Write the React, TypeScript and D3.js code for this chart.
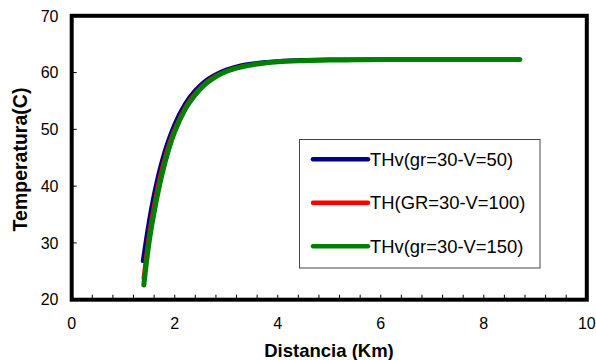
import React from "react";
import * as d3 from "d3";

const xTicks = [0, 2, 4, 6, 8, 10];
const yTicks = [20, 30, 40, 50, 60, 70];

const blueX = [1.38, 1.45, 1.5, 1.6, 1.7, 1.8, 1.9, 2.0, 2.2, 2.4, 2.6, 2.8, 3.0, 3.3, 3.6, 4.0, 4.5, 5.0, 5.5, 6.0, 6.5, 7.0, 7.7];
const blueY = [26.8, 31.1, 33.9, 38.7, 42.7, 46.0, 48.7, 51.0, 54.5, 56.9, 58.6, 59.7, 60.5, 61.3, 61.7, 62.0, 62.2, 62.3, 62.3, 62.3, 62.35, 62.4, 62.4];

const redX = [1.38, 1.45, 1.5, 1.6, 1.7, 1.8, 1.9, 2.0, 2.2, 2.4, 2.6, 2.8, 3.0, 3.3, 3.6, 4.0, 4.5, 5.0, 5.5, 6.0, 6.5, 7.0, 7.7];
const redY = [23.7, 29.0, 32.2, 37.4, 41.7, 45.2, 48.1, 50.4, 54.1, 56.6, 58.4, 59.6, 60.4, 61.2, 61.6, 62.0, 62.2, 62.3, 62.3, 62.3, 62.35, 62.4, 62.4];

const greenX = [1.4, 1.45, 1.5, 1.6, 1.7, 1.8, 1.9, 2.0, 2.2, 2.4, 2.6, 2.8, 3.0, 3.3, 3.6, 4.0, 4.5, 5.0, 5.5, 6.0, 6.5, 7.0, 7.5, 8.0, 8.7];
const greenY = [22.6, 26.5, 30.0, 35.4, 40.0, 43.8, 47.0, 49.6, 53.5, 56.1, 58.0, 59.3, 60.2, 61.0, 61.5, 61.9, 62.1, 62.2, 62.25, 62.3, 62.3, 62.3, 62.3, 62.3, 62.3];

const seriesNames = ["THv(gr=30-V=50)", "TH(GR=30-V=100)", "THv(gr=30-V=150)"];
const seriesColors = ["#000080", "#ff0000", "#008000"];
const seriesWidths = [4, 2.5, 5];

export default function App() {
  const W = 596, H = 360;
  const left = 71.7, right = 586.8, top = 15.8, bottom = 299.7;
  const x = d3.scaleLinear().domain([0, 10]).range([left, right]);
  const y = d3.scaleLinear().domain([20, 70]).range([bottom, top]);
  const line = d3.line<[number, number]>().x(d => x(d[0])).y(d => y(d[1])).curve(d3.curveMonotoneX);
  const series = [
    blueX.map((v, i) => [v, blueY[i]] as [number, number]),
    redX.map((v, i) => [v, redY[i]] as [number, number]),
    greenX.map((v, i) => [v, greenY[i]] as [number, number]),
  ];
  const minorX = d3.range(0, 10.001, 0.4);
  const font = "Arial, 'Liberation Sans', sans-serif";
  const lx = 299.5, ly = 139.5, lw = 240.5, lh = 128.5;
  return (
    <svg width={W} height={H} style={{ position: "absolute", left: 0, top: 0 }} fontFamily={font}>
      <rect x={0} y={0} width={W} height={H} fill="#fff" />
      <defs>
        <clipPath id="pc">
          <rect x={left} y={top} width={right - left} height={bottom - top} />
        </clipPath>
      </defs>
      {minorX.map((t, i) => (
        <line key={"mx" + i} x1={x(t)} x2={x(t)} y1={bottom} y2={bottom - 5} stroke="#000" strokeWidth={1} />
      ))}
      {yTicks.map(t => (
        <line key={"yt" + t} x1={left} x2={left + 5} y1={y(t)} y2={y(t)} stroke="#000" strokeWidth={1} />
      ))}
      <g clipPath="url(#pc)">
        {series.map((s, i) => (
          <path key={i} d={line(s) || ""} fill="none" stroke={seriesColors[i]} strokeWidth={seriesWidths[i]} strokeLinecap="round" strokeLinejoin="round" />
        ))}
      </g>
      <rect x={left} y={top} width={right - left} height={bottom - top} fill="none" stroke="#000" strokeWidth={4} />
      {xTicks.map(t => (
        <text key={"xl" + t} x={x(t)} y={329} textAnchor="middle" fontSize={16} fill="#000">{t}</text>
      ))}
      {yTicks.map(t => (
        <text key={"yl" + t} x={58.5} y={y(t) + 5.7} textAnchor="end" fontSize={16} fill="#000">{t}</text>
      ))}
      <text x={329} y={356.5} textAnchor="middle" fontSize={18.5} fontWeight="bold" fill="#000">Distancia (Km)</text>
      <text transform={`translate(26.5,159.5) rotate(-90)`} textAnchor="middle" fontSize={19.5} fontWeight="bold" fill="#000">Temperatura(C)</text>
      <rect x={lx} y={ly} width={lw} height={lh} fill="#fff" stroke="#444" strokeWidth={1} />
      {seriesNames.map((n, i) => {
        const yy = 159.3 + i * 43.5;
        return (
          <g key={n}>
            <line x1={313} x2={368} y1={yy} y2={yy} stroke={seriesColors[i]} strokeWidth={4.5} strokeLinecap="round" />
            <text x={370} y={yy + 6.5} fontSize={18.4} fill="#000">{n}</text>
          </g>
        );
      })}
    </svg>
  );
}
